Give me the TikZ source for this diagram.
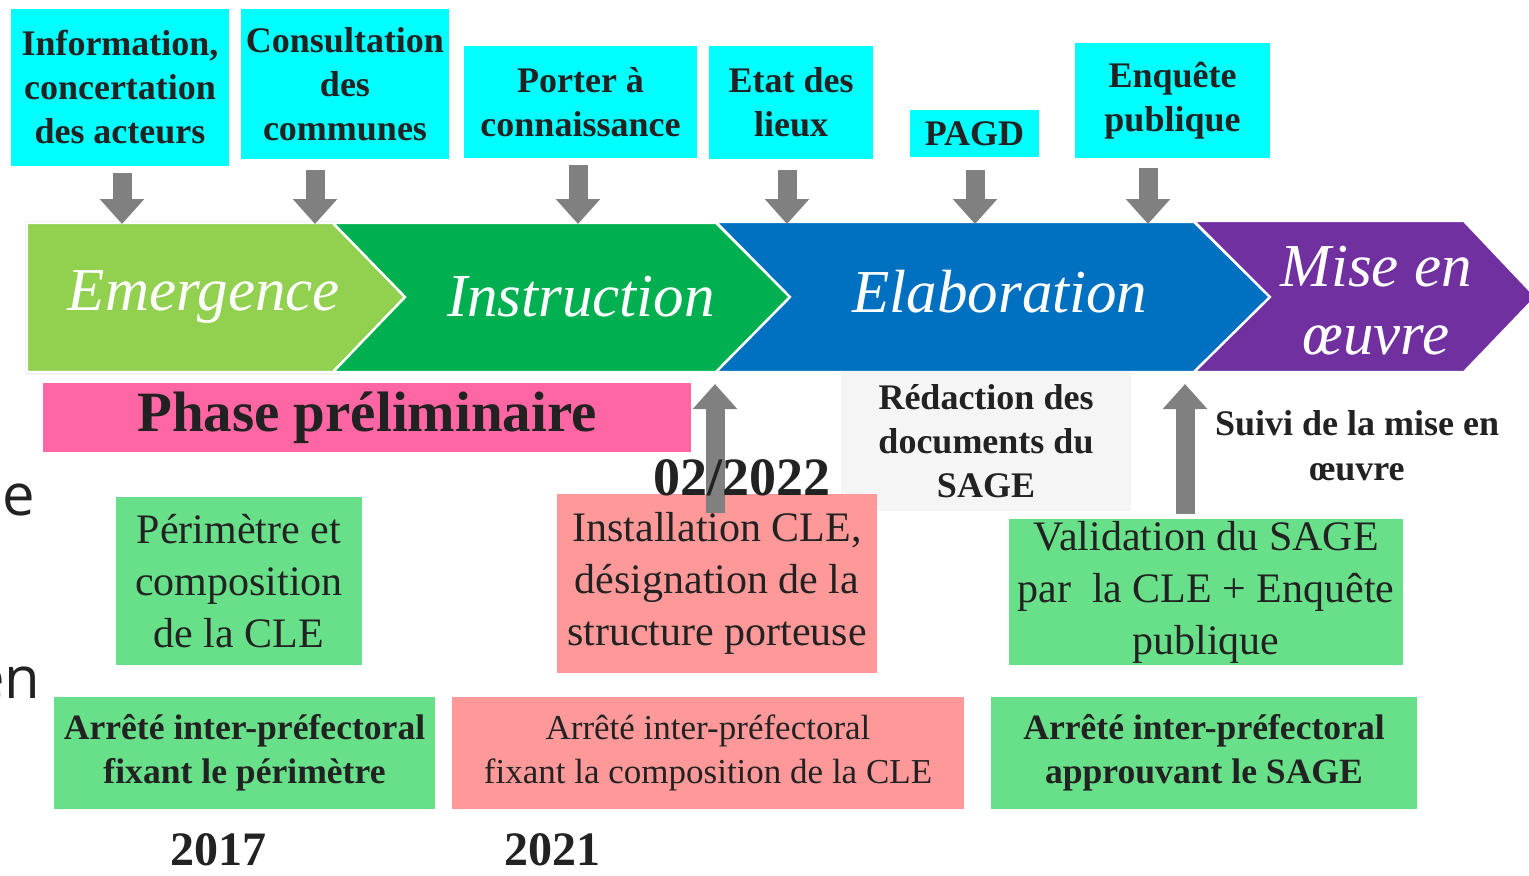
\documentclass[tikz,border=0pt]{standalone}
\usepackage{fontspec}
\setmainfont{Liberation Serif}
\newfontfamily\edgefont{Open Sans}
\usetikzlibrary{arrows.meta}
\definecolor{phaseA}{HTML}{92D050}
\definecolor{phaseB}{HTML}{00B050}
\definecolor{phaseC}{HTML}{0070C0}
\definecolor{phaseD}{HTML}{7030A0}
\definecolor{boxcyan}{HTML}{00FFFF}
\definecolor{boxpink}{HTML}{FF66A3}
\definecolor{boxgreen}{HTML}{68E08A}
\definecolor{boxsalmon}{HTML}{FF9999}
\definecolor{boxgray}{HTML}{F5F5F5}
\definecolor{arrgray}{HTML}{808080}
\definecolor{ink}{HTML}{222222}
\tikzstyle{phase} = [draw=white, line width=1.2pt]
\tikzstyle{phasetext} = [text=white, align=center, font=\fontsize{30.5pt}{34pt}\selectfont\itshape]
\tikzstyle{topbox} = [rectangle, fill=boxcyan, inner sep=0pt, align=center, text=ink,
font=\fontsize{18pt}{22pt}\selectfont\bfseries]
\tikzstyle{greenbox} = [rectangle, fill=boxgreen, inner sep=0pt, align=center, text=ink,
font=\fontsize{21pt}{26pt}\selectfont]
\tikzstyle{salmonbox} = [rectangle, fill=boxsalmon, inner sep=0pt, align=center, text=ink,
font=\fontsize{21pt}{26pt}\selectfont]
\tikzstyle{decree} = [rectangle, inner sep=0pt, align=center, text=ink,
font=\fontsize{17.5pt}{22pt}\selectfont]
\tikzstyle{year} = [text=ink, font=\fontsize{24pt}{28pt}\selectfont\bfseries]
\tikzstyle{downarr} = [line width=9.5pt, draw=arrgray, -{Triangle[width=21.5pt,length=12.5pt]}]

\begin{document}
\begin{tikzpicture}[x=0.5pt, y=-0.5pt]
\useasboundingbox (0,0) rectangle (1529,875);

\fill[gray!12] (25,221) rectangle (340,375);
\filldraw[phase, fill=phaseA] (27,223) -- (333,223) -- (405,297) -- (333,372) -- (27,372) -- cycle;
\filldraw[phase, fill=phaseB] (333,223) -- (716,223) -- (790,297) -- (716,372) -- (333,372) -- (405,297) -- cycle;
\filldraw[phase, fill=phaseC] (716,222) -- (1194,222) -- (1270,297) -- (1194,372) -- (716,372) -- (790,297) -- cycle;
\filldraw[phase, fill=phaseD] (1194,221) -- (1464,221) -- (1536,297) -- (1464,372) -- (1194,372) -- (1270,297) -- cycle;

\node (emergence)[phasetext] at (204,297) {Emergence};
\node (instruction)[phasetext] at (581,297) {Instruction};
\node (elaboration)[phasetext] at (1000,292) {Elaboration};
\node (miseenoeuvre)[phasetext] at (1376,301) {Mise en\\œuvre};

\node (info)[topbox, minimum width=109pt, minimum height=78.5pt] at (120,87.5) {Information,\\concertation\\des acteurs};
\node (consult)[topbox, minimum width=104pt, minimum height=75pt] at (345,84) {Consultation\\des\\communes};
\node (porter)[topbox, minimum width=116.5pt, minimum height=56pt] at (580.5,102) {Porter à\\connaissance};
\node (etat)[topbox, minimum width=82pt, minimum height=56.5pt] at (791,102.5) {Etat des\\lieux};
\node (pagd)[topbox, minimum width=64.5pt, minimum height=23.5pt] at (974.5,133.5) {PAGD};
\node (enquete)[topbox, minimum width=97.5pt, minimum height=57.5pt] at (1172.5,100.5) {Enquête\\publique};

\foreach \b/\x/\s in {info/122/7, consult/315/11, porter/578/7, etat/787/11, pagd/975/13, enquete/1148/10}
  \draw[downarr] (\b.south -| \x,0) ++(0,\s) -- (\x,224);

\node (phasepre)[rectangle, fill=boxpink, inner sep=0pt, minimum width=324pt, minimum height=34.5pt,
  text=ink, font=\fontsize{28.5pt}{30pt}\selectfont\bfseries] at (367,417.5) {Phase préliminaire};
\node (redaction)[topbox, fill=boxgray, minimum width=145pt, minimum height=70pt] at (986,441) {Rédaction des\\documents du\\SAGE};
\node (suivi)[align=center, text=ink, font=\fontsize{18pt}{22.5pt}\selectfont\bfseries] at (1357,446) {Suivi de la mise en\\œuvre};

\node (perimetre)[greenbox, minimum width=123pt, minimum height=84pt] at (239,581) {Périmètre et\\composition\\de la CLE};
\node (installation)[salmonbox, minimum width=160pt, minimum height=89.5pt] at (717,583.5) {Installation CLE,\\désignation de la\\structure porteuse};
\node (validation)[greenbox, minimum width=197pt, minimum height=73pt] at (1206,592) {Validation du SAGE\\par\ \ la CLE + Enquête\\publique};

\draw[downarr] (installation.north -| 715,0) ++(0,19) -- (715,384);
\draw[downarr] (validation.north -| 1185,0) ++(0,-5) -- (1185,384);

\node (date)[anchor=base, text=ink, font=\fontsize{27pt}{30pt}\selectfont\bfseries] at (742,495) {02/2022};

\node (arrete1)[decree, fill=boxgreen, font=\fontsize{17.8pt}{22pt}\selectfont\bfseries, minimum width=190.5pt, minimum height=56pt] at (244.5,753) {Arrêté inter-préfectoral\\fixant le périmètre};
\node (arrete2)[decree, fill=boxsalmon, minimum width=256pt, minimum height=56pt] at (708,753) {Arrêté inter-préfectoral\\fixant la composition de la CLE};
\node (arrete3)[decree, fill=boxgreen, font=\fontsize{17.8pt}{22pt}\selectfont\bfseries, minimum width=213pt, minimum height=56pt] at (1204,753) {Arrêté inter-préfectoral\\approuvant le SAGE};

\node (y2017)[year, anchor=base] at (218,865) {2017};
\node (y2021)[year, anchor=base] at (552,865) {2021};

\node (cute)[anchor=base west, inner sep=0pt, text=ink, font=\fontsize{29pt}{32pt}\edgefont] at (2,515) {e};
\node (cuten)[anchor=base east, inner sep=0pt, text=ink, font=\fontsize{29pt}{32pt}\edgefont] at (41,698) {en};
\end{tikzpicture}
\end{document}
